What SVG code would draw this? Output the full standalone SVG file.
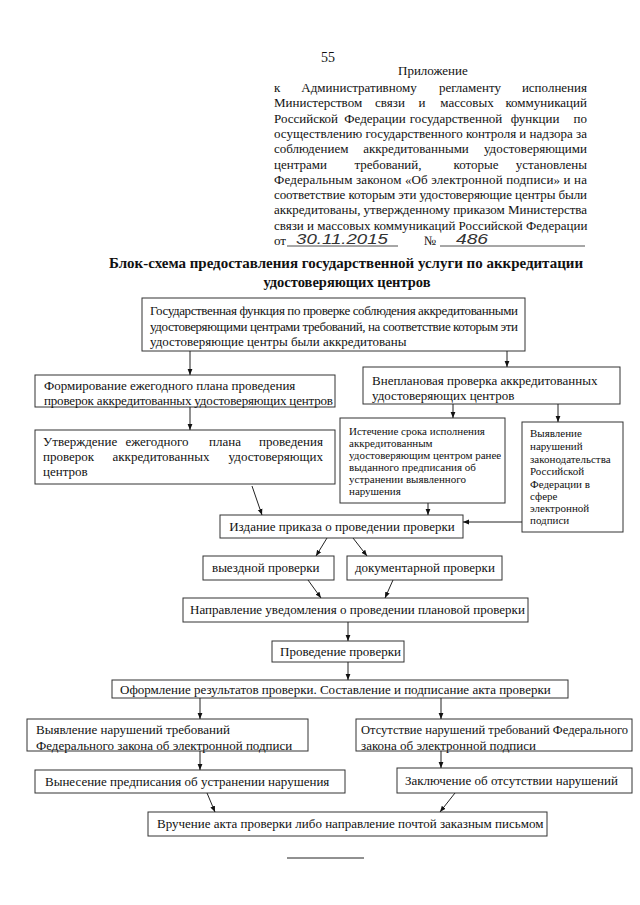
<svg xmlns="http://www.w3.org/2000/svg" width="640" height="905" viewBox="0 0 640 905">
<style>
.t{font-family:"Liberation Serif","Times New Roman",serif;font-size:13px;fill:#111}
.h{font-family:"Liberation Serif","Times New Roman",serif;font-size:13px;fill:#111}
.s{font-family:"Liberation Serif","Times New Roman",serif;font-size:11px;fill:#111}
.m{text-anchor:middle}
.e{text-anchor:end}
.ttl{font-family:"Liberation Serif","Times New Roman",serif;font-size:14.5px;font-weight:bold;fill:#111}
.hw{font-family:"Liberation Sans",Arial,sans-serif;font-style:italic;font-size:14px;fill:#333}
.box{fill:#fff;stroke:#333;stroke-width:1}
.c line{stroke:#222;stroke-width:1;marker-end:url(#ah)}
</style>
<defs>
<marker id="ah" viewBox="0 0 10 10" refX="10" refY="5" markerWidth="6" markerHeight="6" orient="auto" markerUnits="userSpaceOnUse"><path d="M0,1 L10,5 L0,9 z" fill="#111"/></marker>
</defs>
<rect width="640" height="905" fill="#fff"/>
<g id="header">
<text class="h m" x="328" y="62" style="font-size:14px">55</text>
<text class="h" x="398" y="75">Приложение</text>
<text class="h" x="274" y="92">к</text>
<text class="h m" x="359" y="92">Административному</text>
<text class="h m" x="470" y="92">регламенту</text>
<text class="h e" x="587" y="92">исполнения</text>
<text class="h" x="274" y="107.3">Министерством</text>
<text class="h m" x="390" y="107.3">связи</text>
<text class="h m" x="422" y="107.3">и</text>
<text class="h m" x="467" y="107.3">массовых</text>
<text class="h e" x="587" y="107.3">коммуникаций</text>
<text class="h" x="274" y="122.6">Российской</text>
<text class="h m" x="375" y="122.6">Федерации</text>
<text class="h m" x="456" y="122.6">государственной</text>
<text class="h m" x="535" y="122.6">функции</text>
<text class="h e" x="587" y="122.6">по</text>
<text class="h" x="274" y="137.9" textLength="313" lengthAdjust="spacing">осуществлению государственного контроля и надзора за</text>
<text class="h" x="274" y="153.2">соблюдением</text>
<text class="h m" x="416" y="153.2">аккредитованными</text>
<text class="h e" x="587" y="153.2">удостоверяющими</text>
<text class="h" x="274" y="168.5">центрами</text>
<text class="h m" x="388" y="168.5">требований,</text>
<text class="h m" x="476" y="168.5">которые</text>
<text class="h e" x="587" y="168.5">установлены</text>
<text class="h" x="274" y="183.8" textLength="313" lengthAdjust="spacing">Федеральным законом «Об электронной подписи» и на</text>
<text class="h" x="274" y="199.1" textLength="313" lengthAdjust="spacing">соответствие которым эти удостоверяющие центры были</text>
<text class="h" x="274" y="214.4" textLength="313" lengthAdjust="spacing">аккредитованы, утвержденному приказом Министерства</text>
<text class="h" x="274" y="229.7">связи и массовых коммуникаций Российской Федерации</text>
<text class="h" x="274" y="245">от</text>
<line x1="287" y1="246" x2="398" y2="246" stroke="#222" stroke-width="0.8"/>
<text class="hw" x="296" y="244" textLength="92" lengthAdjust="spacingAndGlyphs">30.11.2015</text>
<text class="h" x="424" y="245">№</text>
<line x1="440" y1="246" x2="585" y2="246" stroke="#222" stroke-width="0.8"/>
<text class="hw" x="456" y="244" textLength="32" lengthAdjust="spacingAndGlyphs">486</text>
</g>
<g id="title">
<text class="ttl m" x="346" y="268" textLength="474" lengthAdjust="spacingAndGlyphs">Блок-схема предоставления государственной услуги по аккредитации</text>
<text class="ttl m" x="347" y="287">удостоверяющих центров</text>
</g>
<g id="n_func">
<rect class="box" x="142" y="298" width="383" height="53"/>
<text class="t" x="150" y="315" textLength="368" lengthAdjust="spacing">Государственная функция по проверке соблюдения аккредитованными</text>
<text class="t" x="150" y="330.5" textLength="368" lengthAdjust="spacing">удостоверяющими центрами требований, на соответствие которым эти</text>
<text class="t" x="150" y="346">удостоверяющие центры были аккредитованы</text>
</g>
<g id="n_form">
<rect class="box" x="35" y="375" width="300" height="32"/>
<text class="t" x="44" y="390">Формирование ежегодного плана проведения</text>
<text class="t" x="44" y="405" textLength="289" lengthAdjust="spacing">проверок аккредитованных удостоверяющих центров</text>
</g>
<g id="n_utv">
<rect class="box" x="35" y="430" width="300" height="54"/>
<text class="t" x="43" y="446">Утверждение</text>
<text class="t m" x="157" y="446">ежегодного</text>
<text class="t m" x="225" y="446">плана</text>
<text class="t e" x="323" y="446">проведения</text>
<text class="t" x="43" y="461">проверок</text>
<text class="t m" x="161" y="461">аккредитованных</text>
<text class="t e" x="323" y="461">удостоверяющих</text>
<text class="t" x="43" y="476">центров</text>
</g>
<g id="n_vnepl">
<rect class="box" x="363" y="367" width="257" height="37"/>
<text class="t" x="372" y="385">Внеплановая проверка аккредитованных</text>
<text class="t" x="372" y="400">удостоверяющих центров</text>
</g>
<g id="n_istech">
<rect class="box" x="340" y="418" width="165" height="85"/>
<text class="s" x="349" y="435">Истечение срока исполнения</text>
<text class="s" x="349" y="447">аккредитованным</text>
<text class="s" x="349" y="459">удостоверяющим центром ранее</text>
<text class="s" x="349" y="471">выданного предписания об</text>
<text class="s" x="349" y="483">устранении выявленного</text>
<text class="s" x="349" y="495">нарушения</text>
</g>
<g id="n_vyavl">
<rect class="box" x="522" y="422" width="101" height="110"/>
<text class="s" x="530" y="437">Выявление</text>
<text class="s" x="530" y="450">нарушений</text>
<text class="s" x="530" y="463">законодательства</text>
<text class="s" x="530" y="475">Российской</text>
<text class="s" x="530" y="488">Федерации в</text>
<text class="s" x="530" y="500">сфере</text>
<text class="s" x="530" y="512">электронной</text>
<text class="s" x="530" y="524">подписи</text>
</g>
<g id="n_izd">
<rect class="box" x="220" y="515" width="243" height="23"/>
<text class="t m" x="342" y="531">Издание приказа о проведении проверки</text>
</g>
<g id="n_vyezd">
<rect class="box" x="203" y="556" width="131" height="24"/>
<text class="t" x="212" y="572">выездной проверки</text>
</g>
<g id="n_dok">
<rect class="box" x="347" y="556" width="155" height="24"/>
<text class="t" x="355" y="572">документарной проверки</text>
</g>
<g id="n_napr">
<rect class="box" x="183" y="598" width="345" height="24"/>
<text class="t" x="190" y="614">Направление уведомления о проведении плановой проверки</text>
</g>
<g id="n_prov">
<rect class="box" x="272" y="641" width="132" height="21"/>
<text class="t" x="280" y="656">Проведение проверки</text>
</g>
<g id="n_oform">
<rect class="box" x="112" y="680" width="456" height="18"/>
<text class="t" x="120" y="694">Оформление результатов проверки. Составление и подписание акта проверки</text>
</g>
<g id="n_narush">
<rect class="box" x="27" y="719" width="281" height="32"/>
<text class="t" x="36" y="734">Выявление нарушений требований</text>
<text class="t" x="36" y="750">Федерального закона об электронной подписи</text>
</g>
<g id="n_otsut">
<rect class="box" x="356" y="719" width="276" height="32"/>
<text class="t" x="361" y="734" textLength="267" lengthAdjust="spacingAndGlyphs">Отсутствие нарушений требований Федерального</text>
<text class="t" x="361" y="750">закона об электронной подписи</text>
</g>
<g id="n_vynes">
<rect class="box" x="35" y="770" width="310" height="23"/>
<text class="t" x="45" y="786">Вынесение предписания об устранении нарушения</text>
</g>
<g id="n_zakl">
<rect class="box" x="397" y="768" width="235" height="25"/>
<text class="t" x="405" y="785">Заключение об отсутствии нарушений</text>
</g>
<g id="n_vruch">
<rect class="box" x="148" y="812" width="399" height="24"/>
<text class="t" x="157" y="828">Вручение акта проверки либо направление почтой заказным письмом</text>
</g>
<g id="connectors" class="c">
<line x1="190" y1="351" x2="190" y2="375"/>
<line x1="507" y1="351" x2="507" y2="367"/>
<line x1="190" y1="407" x2="190" y2="430"/>
<line x1="252" y1="486" x2="262" y2="515"/>
<line x1="453" y1="404" x2="453" y2="418"/>
<line x1="558" y1="404" x2="558" y2="422"/>
<line x1="428" y1="503" x2="428" y2="515"/>
<line x1="522" y1="522" x2="463" y2="522"/>
<line x1="327" y1="538" x2="316" y2="556"/>
<line x1="353" y1="538" x2="367" y2="556"/>
<line x1="308" y1="580" x2="321" y2="598"/>
<line x1="393" y1="580" x2="385" y2="598"/>
<line x1="348" y1="622" x2="348" y2="641"/>
<line x1="348" y1="662" x2="348" y2="680"/>
<line x1="200" y1="698" x2="200" y2="719"/>
<line x1="441" y1="698" x2="441" y2="719"/>
<line x1="200" y1="751" x2="200" y2="770"/>
<line x1="441" y1="751" x2="441" y2="768"/>
<line x1="207" y1="793" x2="215" y2="812"/>
<line x1="455" y1="793" x2="440" y2="812"/>
</g>
<line x1="287" y1="858" x2="364" y2="858" stroke="#222" stroke-width="1"/>
</svg>
